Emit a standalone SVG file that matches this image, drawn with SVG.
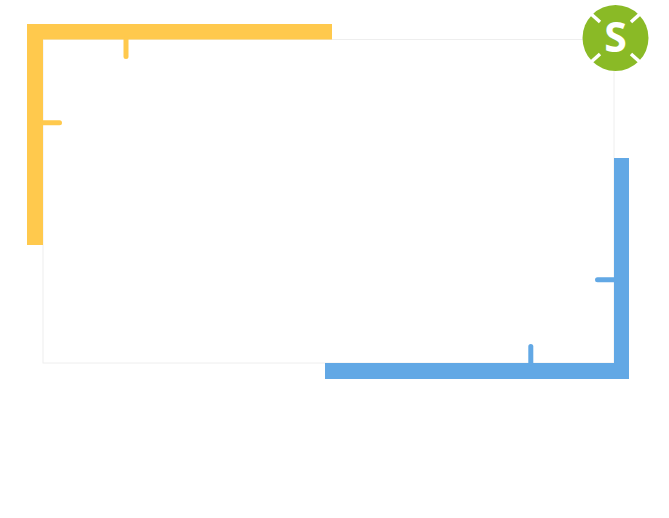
<svg xmlns="http://www.w3.org/2000/svg" width="669" height="518" viewBox="0 0 669 518">
<style>
.y{fill:#ffc94d}.b{fill:#62a8e5}
.ty{stroke:#ffc94d;stroke-width:5;stroke-linecap:round;fill:none}
.tb{stroke:#62a8e5;stroke-width:5;stroke-linecap:round;fill:none}
.n{stroke:#fff;stroke-width:3.500;stroke-linecap:butt}
</style>
<rect width="669" height="518" fill="#fff"/>
<rect id="frame" x="43" y="39.500" width="571" height="323.500" fill="#fff" stroke="#eeeeee" stroke-width="1"/>
<g id="yellow-corner">
<path class="y" d="M27 24H332V39.500H43V245H27Z"/>
<path class="ty" d="M126 39V56.500"/>
<path class="ty" d="M43 122.800H59.500"/>
</g>
<g id="blue-corner">
<path class="b" d="M629 158V379H325V363H614V158Z"/>
<path class="tb" d="M530.800 363V346.500"/>
<path class="tb" d="M614 279.800H597.500"/>
</g>
<g id="logo">
<circle cx="615.500" cy="38" r="33" fill="#8aba26"/>
<path class="n" d="M590 13L600 22M641 13L631 22M590 63L600 54M641 63L631 54"/>
<text x="615.500" y="52" text-anchor="middle" font-family="'Open Sans','Liberation Sans',sans-serif" font-weight="700" font-size="41" fill="#fff">S</text>
</g>
</svg>
